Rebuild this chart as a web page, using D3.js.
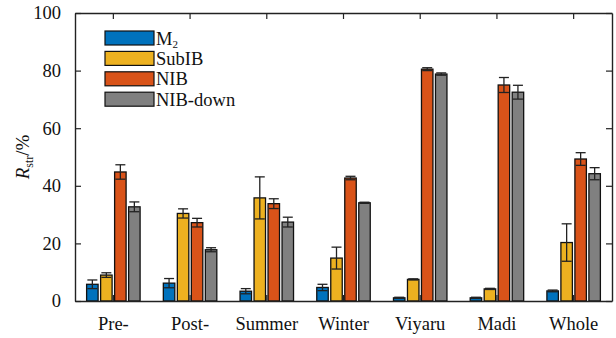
<!DOCTYPE html>
<html>
<head>
<meta charset="utf-8">
<script src="https://cdn.jsdelivr.net/npm/d3@7"></script>
<style>
  html, body { margin: 0; padding: 0; background: #fff; }
  svg text { font-family: "Liberation Serif", "Times New Roman", serif; fill: #111; }
</style>
</head>
<body>
<svg id="chart" width="616" height="338"></svg>
<script>
// Categories along the x axis
const categories = ["Pre-", "Post-", "Summer", "Winter", "Viyaru", "Madi", "Whole"];
// Series keys and legend labels
const seriesKeys = ["M2", "SubIB", "NIB", "NIB-down"];
const seriesColors = ["#0072BD", "#EDB120", "#D95319", "#808080"];
// Mean R_str (%) for each series, per category
const m2Values      = [5.8, 6.2, 3.4, 4.7, 1.1, 1.1, 3.5];
const subibValues   = [9.0, 30.4, 35.8, 14.9, 7.5, 4.2, 20.3];
const nibValues     = [44.8, 27.2, 33.8, 42.7, 80.5, 75.0, 49.3];
const nibDownValues = [32.7, 17.8, 27.4, 34.1, 78.8, 72.5, 44.2];
// Standard deviation for each series
const m2Err      = [1.5, 1.6, 0.9, 1.1, 0.2, 0.2, 0.3];
const subibErr   = [0.8, 1.6, 7.3, 3.8, 0.2, 0.2, 6.5];
const nibErr     = [2.5, 1.5, 1.7, 0.6, 0.5, 2.6, 2.2];
const nibDownErr = [1.7, 0.7, 1.7, 0.2, 0.4, 2.4, 2.1];
// Y axis ticks
const yTicks = [0, 20, 40, 60, 80, 100];

const seriesValues = [m2Values, subibValues, nibValues, nibDownValues];
const seriesErrors = [m2Err, subibErr, nibErr, nibDownErr];

const svg = d3.select("#chart");
const plotLeft = 75, plotRight = 612, plotTop = 13, plotBottom = 301;

const x = d3.scaleBand().domain(categories).range([plotLeft, plotRight]).padding(0);
const xs = d3.scaleBand().domain(seriesKeys).range([-28, 28])
  .paddingInner(0.18).paddingOuter(0.09);
const y = d3.scaleLinear().domain([0, 100]).range([plotBottom, plotTop]);

// Bars and error bars
const rows = [];
categories.forEach((c, i) => {
  seriesKeys.forEach((k, j) => {
    rows.push({ cat: c, key: k, color: seriesColors[j],
                v: seriesValues[j][i], e: seriesErrors[j][i] });
  });
});

const g = svg.append("g");
const barW = xs.bandwidth();
g.selectAll("rect.bar").data(rows).join("rect")
  .attr("class", "bar")
  .attr("x", d => x(d.cat) + x.bandwidth() / 2 + xs(d.key))
  .attr("y", d => y(d.v))
  .attr("width", barW)
  .attr("height", d => y(0) - y(d.v))
  .attr("fill", d => d.color)
  .attr("stroke", "#111")
  .attr("stroke-width", 1.3);

const eb = g.selectAll("g.err").data(rows).join("g").attr("class", "err")
  .attr("transform", d => `translate(${x(d.cat) + x.bandwidth() / 2 + xs(d.key) + barW / 2},0)`);
const capHalf = 5;
eb.append("line")
  .attr("y1", d => y(d.v - d.e)).attr("y2", d => y(d.v + d.e))
  .attr("stroke", "#222").attr("stroke-width", 1.3);
eb.append("line")
  .attr("x1", -capHalf).attr("x2", capHalf)
  .attr("y1", d => y(d.v + d.e)).attr("y2", d => y(d.v + d.e))
  .attr("stroke", "#222").attr("stroke-width", 1.3);
eb.append("line")
  .attr("x1", -capHalf).attr("x2", capHalf)
  .attr("y1", d => y(d.v - d.e)).attr("y2", d => y(d.v - d.e))
  .attr("stroke", "#222").attr("stroke-width", 1.3);

// Axes (ticks point inward, box on all sides)
const axisStyle = sel => {
  sel.select(".domain").attr("stroke", "#222").attr("stroke-width", 1.4);
  sel.selectAll(".tick line").attr("stroke", "#222").attr("stroke-width", 1.2);
};
const labelStyle = s => s.selectAll(".tick text").attr("font-size", 18.5)
  .style("font-family", "'Liberation Serif', 'Times New Roman', serif").attr("fill", "#111");

svg.append("g").attr("transform", `translate(${plotLeft},0)`)
  .call(d3.axisLeft(y).tickValues(yTicks).tickSizeInner(-6).tickSizeOuter(0).tickPadding(14))
  .call(axisStyle).call(labelStyle);

svg.append("g").attr("transform", `translate(${plotRight},0)`)
  .call(d3.axisRight(y).tickValues(yTicks).tickSizeInner(-6).tickSizeOuter(0).tickFormat(""))
  .call(axisStyle);

svg.append("g").attr("transform", `translate(0,${plotBottom})`)
  .call(d3.axisBottom(x).tickSizeInner(-6).tickSizeOuter(0).tickPadding(16))
  .call(axisStyle).call(labelStyle);

svg.append("g").attr("transform", `translate(0,${plotTop})`)
  .call(d3.axisTop(x).tickSizeInner(-6).tickSizeOuter(0).tickFormat(""))
  .call(axisStyle);

// Y axis title: R_str/%
const yt = svg.append("text")
  .attr("transform", `translate(29,${(plotTop + plotBottom) / 2}) rotate(-90)`)
  .attr("text-anchor", "middle")
  .attr("font-size", 19);
yt.append("tspan").attr("font-style", "italic").text("R");
yt.append("tspan").attr("font-size", 12).attr("dy", 4).text("str");
yt.append("tspan").attr("dy", -4).text("/%");

// Legend
const legend = svg.append("g").attr("transform", "translate(105,31)");
const rowH = 20.4;
seriesKeys.forEach((k, j) => {
  const r = legend.append("g").attr("transform", `translate(0,${j * rowH})`);
  r.append("rect").attr("width", 49).attr("height", 14)
    .attr("fill", seriesColors[j]).attr("stroke", "#111").attr("stroke-width", 1.2);
  const t = r.append("text").attr("x", 51).attr("y", 13.5).attr("font-size", 18.5);
  if (k === "M2") {
    t.append("tspan").text("M");
    t.append("tspan").attr("font-size", 11).attr("dy", 3).text("2");
  } else {
    t.text(k);
  }
});
</script>
</body>
</html>
